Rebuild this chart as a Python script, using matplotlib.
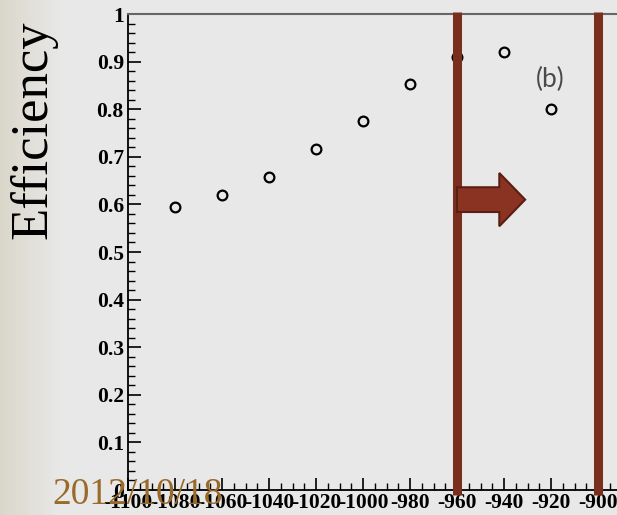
import matplotlib
matplotlib.use("Agg")
import numpy as np
import matplotlib.pyplot as plt
from matplotlib.patches import FancyArrow
from matplotlib.ticker import MultipleLocator, FormatStrFormatter

x_vals = [-1080, -1060, -1040, -1020, -1000, -980, -960, -940, -920]
eff = [0.595, 0.620, 0.657, 0.717, 0.775, 0.852, 0.910, 0.920, 0.800]
cut_lines = [-960, -900]
x_ticks = [-1100, -1080, -1060, -1040, -1020, -1000, -980, -960, -940, -920, -900]
y_ticks = [0, 0.1, 0.2, 0.3, 0.4, 0.5, 0.6, 0.7, 0.8, 0.9, 1]

fig = plt.figure(figsize=(6.17, 5.15), dpi=100)
fig.patch.set_facecolor("#e8e8e8")
W, H = 617, 515

# background gradient (beige on the left fading to light gray)
bg = fig.add_axes([0, 0, 1, 1], zorder=-10)
bg.axis("off")
t = np.clip(np.linspace(0, 1, W) / (60 / W), 0, 1)
c0 = np.array([0xda, 0xd7, 0xca]) / 255
c1 = np.array([0xe8, 0xe8, 0xe8]) / 255
grad = (c0[None, :] * (1 - t[:, None]) + c1[None, :] * t[:, None])[None, :, :]
bg.imshow(grad, aspect="auto", extent=[0, 1, 0, 1])
bg.set_xlim(0, 1)
bg.set_ylim(0, 1)

left, right, top, bottom = 128, 617, 14, 490
ax = fig.add_axes([left / W, 1 - bottom / H, (right - left) / W, (bottom - top) / H])
ax.set_facecolor("#e8e8e8")
ax.set_xlim(-1100, -1100 + (right - left) / 2.35)
ax.set_ylim(0, 1)

ax.plot(x_vals, eff, linestyle="none", marker="o", markersize=7,
        markerfacecolor="none", markeredgecolor="black", markeredgewidth=1.6, zorder=3)

for xv in cut_lines:
    ax.plot([xv, xv], [-0.01, 1.005], color="#7a2e1e", linewidth=6.5,
            solid_capstyle="butt", clip_on=False, zorder=4)

arrow = FancyArrow(-960, 0.61, 29, 0, width=0.052, head_width=0.112,
                   head_length=11, length_includes_head=True,
                   facecolor="#8a3322", edgecolor="#5a1e12", linewidth=1.5, zorder=5)
ax.add_patch(arrow)

ax.text(-920.3, 0.862, "(b)", fontsize=19, color="#4a4a4a", ha="center", va="center",
        family="Lato", fontweight="normal")

ax.set_xticks(x_ticks)
ax.set_yticks(y_ticks)
ax.xaxis.set_minor_locator(MultipleLocator(5))
ax.yaxis.set_minor_locator(MultipleLocator(0.02))
ax.yaxis.set_major_formatter(FormatStrFormatter("%g"))
ax.xaxis.set_major_formatter(FormatStrFormatter("%g"))
ax.tick_params(axis="both", which="major", direction="in", length=9, width=1.2,
               labelsize=15.5, colors="black", pad=3)
ax.tick_params(axis="x", which="major", pad=2)
ax.tick_params(axis="both", which="minor", direction="in", length=5, width=1)
for lab in ax.get_xticklabels() + ax.get_yticklabels():
    lab.set_family("Liberation Serif")
    lab.set_fontweight("bold")

ax.spines["right"].set_visible(False)
ax.spines["top"].set_color("#666666")
ax.spines["top"].set_linewidth(1.5)
ax.spines["left"].set_linewidth(1.3)
ax.spines["bottom"].set_linewidth(1.3)

fig.text(33 / W, 1 - 130 / H, "Efficiency", rotation=90, fontsize=38,
         family="Liberation Serif", ha="center", va="center", color="black")

fig.text(52 / W, 1 - 495 / H, "2012/10/18", fontsize=27, family="Liberation Serif",
         color="#9a6a2a", ha="left", va="center", zorder=10)

fig.savefig("out.png", dpi=100, facecolor=fig.get_facecolor())
